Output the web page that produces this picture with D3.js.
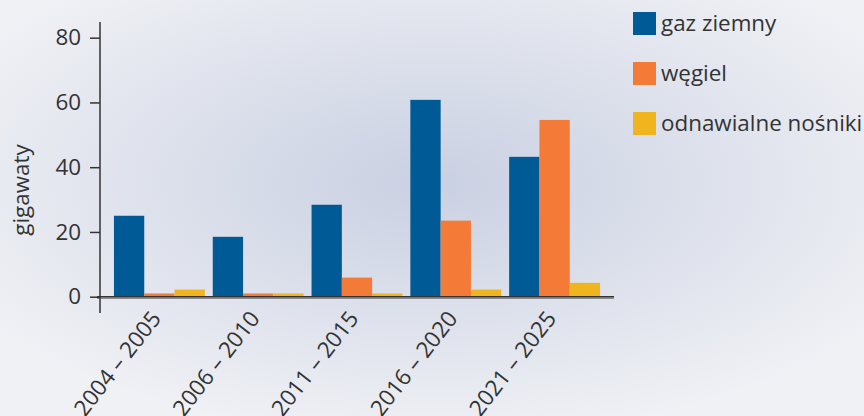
<!DOCTYPE html>
<html>
<head>
<meta charset="utf-8">
<script src="https://cdn.jsdelivr.net/npm/d3@7"></script>
<style>
  body { margin: 0; }
  svg { display: block; font-family: "Open Sans", sans-serif; }
</style>
</head>
<body>
<svg id="chart" width="864" height="416"></svg>
<script>
// data
const periods = ["2004 – 2005", "2006 – 2010", "2011 – 2015", "2016 – 2020", "2021 – 2025"]
const series = ["gaz ziemny", "węgiel", "odnawialne nośniki"]
const gaz = [25, 18.5, 28.4, 60.8, 43.2]
const wegiel = [1, 1, 5.9, 23.5, 54.6]
const odnawialne = [2.2, 1, 1, 2.2, 4.3]
const yTicks = [0, 20, 40, 60, 80]
const colors = ["#005a96", "#f47a38", "#f0b51e"]

const values = [gaz, wegiel, odnawialne]
const data = periods.map((p, i) => ({ period: p, vals: series.map((s, j) => ({ key: s, value: values[j][i] })) }))

const svg = d3.select("#chart")
const fontSize = "22.4px"
const textColor = "#333"

// background
let defs = svg.append("defs")
let grad = defs.append("radialGradient")
    .attr("id", "bg")
    .attr("cx", "50%").attr("cy", "44%").attr("r", "62%")
    .attr("fx", "50%").attr("fy", "44%")
grad.append("stop").attr("offset", "0%").attr("stop-color", "#c9d0e2")
grad.append("stop").attr("offset", "100%").attr("stop-color", "#f0f1f5")
svg.append("rect").attr("width", 864).attr("height", 416).attr("fill", "url(#bg)")

const x0 = d3.scaleBand().domain(periods).range([110, 604]).paddingInner(0.08).paddingOuter(0.04)
const x1 = d3.scaleBand().domain(series).range([0, x0.bandwidth()])
const y = d3.scaleLinear().domain([0, 80]).range([296.7, 37.7])
const color = d3.scaleOrdinal().domain(series).range(colors)

// bars
svg.append("g")
    .selectAll("g")
    .data(data)
    .enter()
    .append("g")
    .attr("transform", d => "translate(" + x0(d.period) + ",0)")
    .selectAll("rect")
    .data(d => d.vals)
    .enter()
    .append("rect")
    .attr("x", d => x1(d.key))
    .attr("y", d => y(d.value))
    .attr("width", x1.bandwidth())
    .attr("height", d => y(0) - y(d.value))
    .attr("fill", d => color(d.key))

// x axis line (dark with a soft shadow)
svg.append("line").attr("x1", 97).attr("x2", 614).attr("y1", y(0) + 1.5).attr("y2", y(0) + 1.5)
    .attr("stroke", "#8a8c92").attr("stroke-width", 1.5)
svg.append("line").attr("x1", 97).attr("x2", 614).attr("y1", y(0)).attr("y2", y(0))
    .attr("stroke", "#333").attr("stroke-width", 1.5)

// y axis
const yAxis = svg.append("g")
    .attr("transform", "translate(100,0)")
    .call(d3.axisLeft(y).tickValues(yTicks).tickSize(10).tickPadding(9))
yAxis.select(".domain").remove()
yAxis.selectAll(".tick line").attr("stroke", "#333").attr("stroke-width", 1.5)
yAxis.selectAll(".tick text").attr("fill", textColor).style("font-size", fontSize).style("font-family", "Open Sans")
svg.append("line").attr("x1", 100).attr("x2", 100).attr("y1", 22).attr("y2", 313)
    .attr("stroke", "#333").attr("stroke-width", 1.5)

// x tick labels
svg.append("g")
    .selectAll("text")
    .data(periods)
    .enter()
    .append("text")
    .attr("transform", d => "translate(" + (x0(d) + x0.bandwidth() / 2 - 10) + ",309) rotate(-52)")
    .attr("text-anchor", "end")
    .attr("dy", "0.72em")
    .attr("fill", textColor)
    .style("font-size", fontSize)
    .text(d => d)

// y label
svg.append("text")
    .attr("transform", "translate(29,190) rotate(-90)")
    .attr("text-anchor", "middle")
    .attr("fill", textColor)
    .style("font-size", fontSize)
    .text("gigawaty")

// legend
const legend = svg.append("g")
    .selectAll("g")
    .data(series)
    .enter()
    .append("g")
    .attr("transform", (d, i) => "translate(633," + (12 + i * 50) + ")")
legend.append("rect").attr("width", 23).attr("height", 23).attr("fill", d => color(d))
legend.append("text").attr("x", 28).attr("y", 19).attr("fill", textColor)
    .style("font-size", fontSize)
    .text(d => d)
</script>
</body>
</html>
